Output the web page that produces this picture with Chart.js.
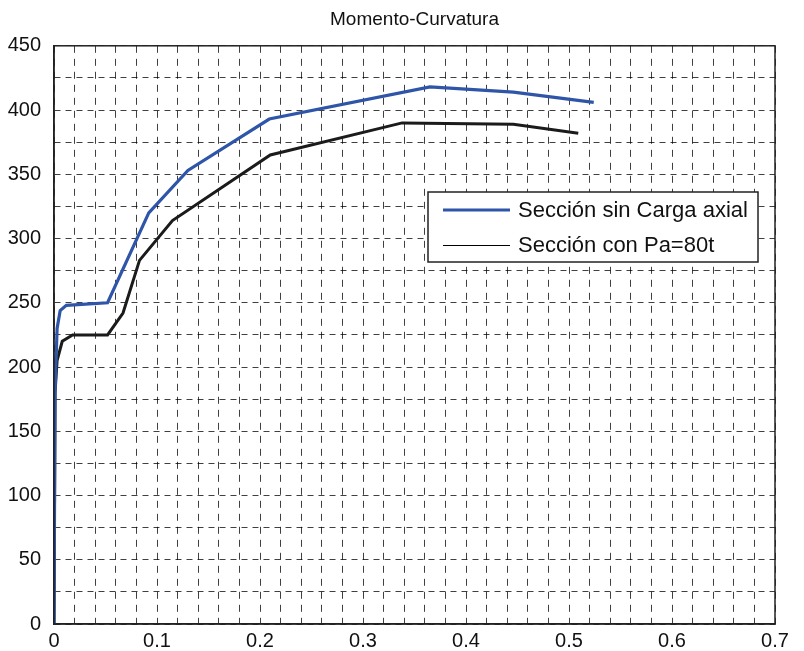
<!DOCTYPE html>
<html>
<head>
<meta charset="utf-8">
<script src="https://cdn.jsdelivr.net/npm/chart.js@4.4.1/dist/chart.umd.min.js"></script>
<style>
html,body{margin:0;padding:0;background:#fff;}
#wrap{width:804px;height:651px;}
</style>
</head>
<body>
<div id="wrap"><canvas id="momCurv" width="804" height="651"></canvas></div>
<script>

// ================= DATA =================

const chartTitle = "Momento-Curvatura";

const seriesNames = [
"Sección sin Carga axial",
"Sección con Pa=80t"
];

// curvatura / momento
const curvSinCarga = [0, 0.001, 0.003, 0.006, 0.012, 0.052, 0.092, 0.130, 0.209, 0.365, 0.446, 0.524];
const momSinCarga  = [0, 180,   230,   244,   248,   250,   320,   353,   393,   418,   414,   406];

const curvConPa = [0, 0.001, 0.003, 0.008, 0.018, 0.052, 0.067, 0.083, 0.115, 0.210, 0.338, 0.446, 0.509];
const momConPa  = [0, 180,   205,   220,   225,   225,   242,   283,   314,   365,   390,   389,   382];

const xTickLabels = ["0", "0.1", "0.2", "0.3", "0.4", "0.5", "0.6", "0.7"];
const yTickLabels = ["0", "50", "100", "150", "200", "250", "300", "350", "400", "450"];


function toPoints(xs, ys){
return xs.map((x, i) => ({x: x, y: ys[i]}));
}

const fontFam = "'Liberation Sans', Arial, sans-serif";


// ================= PLUGINS =================

// closes the box on top and right like the original figure
const boxPlugin = {
id: "boxPlugin",
afterDraw(chart){
const a = chart.chartArea;
const ctx = chart.ctx;
ctx.save();
ctx.strokeStyle = "#222";
ctx.lineWidth = 1.5;
ctx.strokeRect(a.left, a.top, a.right - a.left, a.bottom - a.top);
ctx.restore();
}
};

// legend drawn inside the plot
const boxLegend = {
id: "boxLegend",
afterDraw(chart){
const ctx = chart.ctx;
const left = 428, top = 192, w = 330, h = 70;
ctx.save();
ctx.fillStyle = "#fff";
ctx.fillRect(left, top, w, h);
ctx.strokeStyle = "#222";
ctx.lineWidth = 1.5;
ctx.strokeRect(left, top, w, h);
ctx.font = "22px " + fontFam;
ctx.textBaseline = "middle";
chart.data.datasets.forEach((ds, i) => {
const yy = top + 18 + i * 35;
ctx.strokeStyle = i === 0 ? ds.borderColor : "#000";
ctx.lineWidth = i === 0 ? 3 : 1;
ctx.beginPath();
ctx.moveTo(443, i === 0 ? yy : yy + 0.5);
ctx.lineTo(510, i === 0 ? yy : yy + 0.5);
ctx.stroke();
ctx.fillStyle = "#111";
ctx.fillText(ds.label, 518, yy + 1);
});
ctx.restore();
}
};


// ================= CHART =================

const momCurv =
document.getElementById("momCurv");

if(momCurv){

new Chart(momCurv, {

type: "line",

data: {
datasets: [{
label: seriesNames[0],
data: toPoints(curvSinCarga, momSinCarga),
borderColor: "#2f55a8",
borderWidth: 3.2,
pointRadius: 0,
tension: 0,
fill: false
}, {
label: seriesNames[1],
data: toPoints(curvConPa, momConPa),
borderColor: "#1b1b1b",
borderWidth: 3,
pointRadius: 0,
tension: 0,
fill: false
}]
},

options: {
responsive: false,
animation: false,
layout: {
padding: {left: 0, right: 29, top: 0, bottom: 0}
},
plugins: {
legend: {display: false},
tooltip: {enabled: false},
title: {
display: true,
fullSize: false,
text: chartTitle,
color: "#111",
font: {family: fontFam, size: 19, weight: "normal"},
padding: {top: 8, bottom: 15}
}
},
scales: {
x: {
type: "linear",
min: 0,
max: 0.7,
afterFit: s => { s.height = 27; },
ticks: {
stepSize: 0.02,
autoSkip: false,
maxRotation: 0,
padding: 5,
color: "#111",
font: {family: fontFam, size: 20},
callback: v => {
const k = Math.round(v * 10);
return Math.abs(v * 10 - k) < 1e-6 ? xTickLabels[k] : "";
}
},
grid: {
color: "rgba(0,0,0,0.75)",
lineWidth: 1,
drawTicks: false
},
border: {
color: "#222",
width: 1.5,
dash: [7, 6]
}
},
y: {
min: 0,
max: 450,
afterFit: s => { s.width = 54; },
ticks: {
stepSize: 25,
autoSkip: false,
padding: 13,
color: "#111",
font: {family: fontFam, size: 20},
callback: v => (v % 50 === 0 ? yTickLabels[v / 50] : "")
},
grid: {
color: "rgba(0,0,0,0.75)",
lineWidth: 1,
drawTicks: false
},
border: {
color: "#222",
width: 1.5,
dash: [6, 5]
}
}
}
},

plugins: [boxPlugin, boxLegend]

});

}

</script>
</body>
</html>
